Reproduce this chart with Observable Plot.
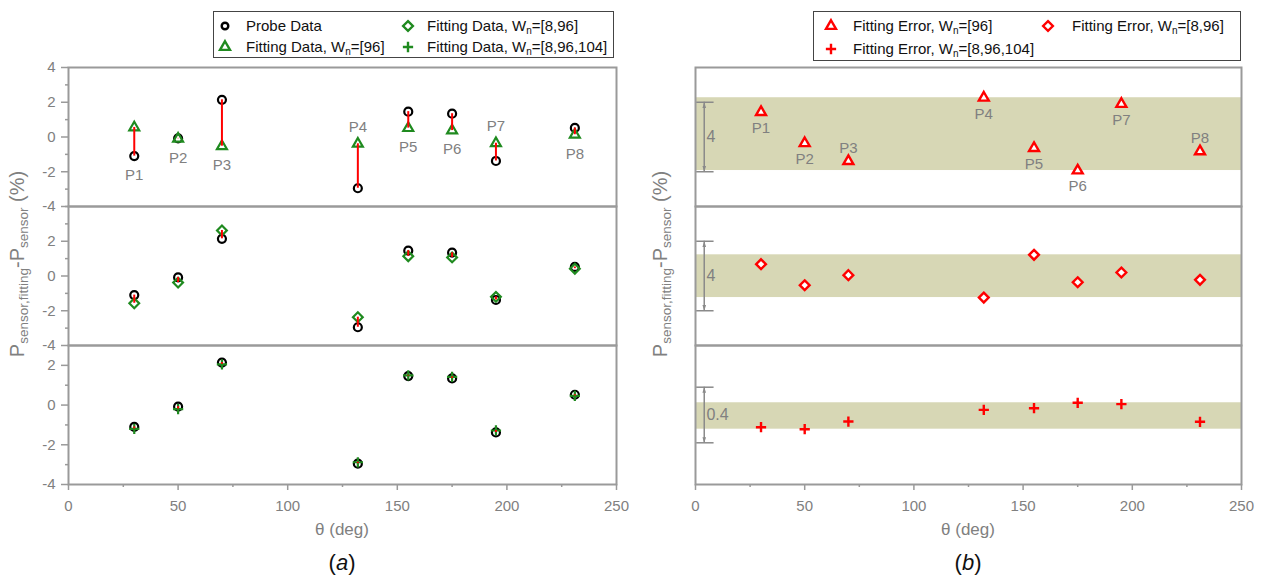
<!DOCTYPE html>
<html><head><meta charset="utf-8">
<script src="https://cdn.jsdelivr.net/npm/d3@7"></script>
<script src="https://cdn.jsdelivr.net/npm/@observablehq/plot@0.6"></script>
<style>
body{margin:0;background:#fff;font-family:"Liberation Sans",Arial,sans-serif;}
#root{position:relative;width:1261px;height:577px;overflow:hidden;background:#fff;}
.lg{position:absolute;border:1.5px solid #444;background:#fff;box-sizing:border-box;}
.lt{position:absolute;font-size:15px;color:#111;white-space:nowrap;line-height:18px;}
.lt sub{font-size:10px;vertical-align:-3px;line-height:0;}
.cap{position:absolute;text-align:center;white-space:nowrap;}
</style></head><body><div id="root"></div>
<script>
// ---------------- data ----------------
const theta = [30, 50, 70, 132, 155, 175, 195, 231];
const pointNames = ["P1", "P2", "P3", "P4", "P5", "P6", "P7", "P8"];
const probeData = [-1.1, -0.08, 2.14, -2.95, 1.46, 1.34, -1.38, 0.52];
const fitW96 = [0.55, -0.1, -0.53, -0.39, 0.51, 0.37, -0.36, 0.13];
const fitW8_96 = [-1.57, -0.38, 2.62, -2.37, 1.14, 1.07, -1.2, 0.42];
const fitW8_96_104 = [-1.2, -0.2, 2.05, -2.88, 1.5, 1.42, -1.28, 0.46];
const errW96 = [1.43, -0.36, -1.39, 2.26, -0.64, -1.93, 1.9, -0.83];
const errW8_96 = [0.68, -0.53, 0.05, -1.24, 1.22, -0.36, 0.2, -0.22];
const errW8_96_104 = [-0.088, -0.102, -0.047, 0.037, 0.049, 0.088, 0.078, -0.049];
const leftLabelSide = ["below", "below", "below", "above", "below", "below", "above", "below"];
const rightLabelSide = ["below", "below", "above", "below", "below", "below", "below", "above"];
const xDomain = [0, 250];
const xTicks = [0, 50, 100, 150, 200, 250];
const xMinorTicks = [25, 75, 125, 175, 225];
const yDomainTop = [-4, 4], yTicksTop = [-4, -2, 0, 2, 4], yMinorTop = [-3, -1, 1, 3];
const yDomainMid = [-4, 4], yTicksMid = [-4, -2, 0, 2], yMinorMid = [-3, -1, 1, 3, 4];
const yDomainBot = [-4, 3], yTicksBot = [-4, -2, 0, 2], yMinorBot = [-3, -1, 1];
const errDomains = [[-4, 4], [-4, 4], [-0.5, 0.5]];
const spanLengths = [4, 4, 0.4];
const spanLabels = ["4", "4", "0.4"];

// ---------------- style ----------------
const GREEN = "#1f8a1f", RED = "#ff0000", AXIS = "#9a9a9a", TXT = "#808080", BAND = "#d7d7b5";
const ROW_TOP = [67, 206, 345], ROW_H = 139;
const LX0 = 68, LX1 = 616, RX0 = 695, RX1 = 1241;
const idx = d3.range(theta.length);
const root = document.getElementById("root");

// narrow filled arrow head, tip at origin pointing up
const arrowHead = {draw(ctx, size) { const s = Math.sqrt(size); ctx.moveTo(0, 0); ctx.lineTo(-s * 0.32, s); ctx.lineTo(s * 0.32, s); ctx.closePath(); }};

function place(node, left, top) {
  const d = document.createElement("div");
  d.style.cssText = `position:absolute;left:${left}px;top:${top}px;`;
  d.appendChild(node);
  root.appendChild(d);
}

function panel({x0, x1, row, yDomain, showX, yTicks, yMinor, marks}) {
  const mL = 70, mR = 12, mT = 12, mB = showX ? 40 : 12;
  const axes = [];
  if (yTicks) {
    axes.push(Plot.axisY(yMinor, {tickSize: 3, tickFormat: () => "", stroke: AXIS, strokeWidth: 1.5, label: null}));
    axes.push(Plot.axisY(yTicks, {tickSize: 7, tickPadding: 6, fontSize: 15, fill: TXT, stroke: AXIS, strokeWidth: 1.5, label: null, tickFormat: d => String(d)}));
  }
  if (showX) {
    axes.push(Plot.axisX(xMinorTicks, {tickSize: 3, tickFormat: () => "", stroke: AXIS, strokeWidth: 1.5, label: null}));
    axes.push(Plot.axisX(xTicks, {tickSize: 6, tickPadding: 10, fontSize: 15, fill: TXT, stroke: AXIS, strokeWidth: 1.5, label: null, tickFormat: d => String(d)}));
  }
  const svg = Plot.plot({
    width: (x1 - x0) + mL + mR,
    height: ROW_H + mT + mB,
    marginLeft: mL, marginRight: mR, marginTop: mT, marginBottom: mB,
    x: Object.assign({domain: xDomain}, showX ? {} : {axis: null}),
    y: Object.assign({domain: yDomain}, yTicks ? {} : {axis: null}),
    style: {background: "transparent", overflow: "visible", fontFamily: "Liberation Sans, Arial, sans-serif", fontSize: "15px", maxWidth: "none"},
    marks: [...marks, Plot.frame({stroke: AXIS, strokeWidth: 2}), ...axes]
  });
  place(svg, x0 - mL, ROW_TOP[row] - mT);
}

// ---------------- left panel ----------------
const leftFits = [fitW96, fitW8_96, fitW8_96_104];
const leftSymbols = [d3.symbolTriangle, d3.symbolDiamond2, d3.symbolPlus];
const leftR = [3.7, 4.4, 3.4];
const leftDomains = [yDomainTop, yDomainMid, yDomainBot];
const leftTicks = [yTicksTop, yTicksMid, yTicksBot];
const leftMinor = [yMinorTop, yMinorMid, yMinorBot];

for (let row = 0; row < 3; row++) {
  const fit = leftFits[row];
  const marks = [
    Plot.dot(idx, {x: i => theta[i], y: i => probeData[i], r: 4, stroke: "#000", strokeWidth: 2.2, fill: "none"}),
    Plot.dot(idx, {x: i => theta[i], y: i => fit[i], symbol: leftSymbols[row], r: leftR[row], stroke: GREEN, strokeWidth: 2.2, fill: "none"}),
    Plot.ruleX(idx, {x: i => theta[i], y1: i => probeData[i], y2: i => fit[i], stroke: RED, strokeWidth: 2})
  ];
  if (row === 0) {
    marks.push(Plot.text(idx.filter(i => leftLabelSide[i] === "below"), {x: i => theta[i], y: i => Math.min(probeData[i], fit[i]), text: i => pointNames[i], dy: 19, fill: TXT, fontSize: 15}));
    marks.push(Plot.text(idx.filter(i => leftLabelSide[i] === "above"), {x: i => theta[i], y: i => Math.max(probeData[i], fit[i]), text: i => pointNames[i], dy: -17, fill: TXT, fontSize: 15}));
  }
  panel({x0: LX0, x1: LX1, row, yDomain: leftDomains[row], showX: row === 2, yTicks: leftTicks[row], yMinor: leftMinor[row], marks});
}

// ---------------- right panel ----------------
const rightErrs = [errW96, errW8_96, errW8_96_104];
const rightSymbols = [d3.symbolTriangle, d3.symbolDiamond2, d3.symbolPlus];
const rightR = [3.7, 4.4, 3.4];
for (let row = 0; row < 3; row++) {
  const err = rightErrs[row];
  const ext = d3.extent(err);
  const h = spanLengths[row] / 2;
  const marks = [
    Plot.rect([ext], {x1: xDomain[0], x2: xDomain[1], y1: d => d[0], y2: d => d[1], fill: BAND}),
    Plot.ruleY([-h, h], {x1: 0.5, x2: 8.5, stroke: "#8a8a8a", strokeWidth: 1.5}),
    Plot.ruleX([4], {y1: -h, y2: h, stroke: "#8a8a8a", strokeWidth: 1.5}),
    Plot.dot([h], {x: 4, y: d => d, symbol: arrowHead, r: 3.2, fill: "#8a8a8a", stroke: "none"}),
    Plot.dot([-h], {x: 4, y: d => d, symbol: arrowHead, r: 3.2, rotate: 180, fill: "#8a8a8a", stroke: "none"}),
    Plot.text([spanLabels[row]], {x: 5, y: 0, text: d => d, textAnchor: "start", fill: TXT, fontSize: 16}),
    Plot.dot(idx, {x: i => theta[i], y: i => err[i], symbol: rightSymbols[row], r: rightR[row], stroke: RED, strokeWidth: 2.4, fill: row === 2 ? "none" : "#fff"})
  ];
  if (row === 0) {
    marks.push(Plot.text(idx.filter(i => rightLabelSide[i] === "below"), {x: i => theta[i], y: i => err[i], text: i => pointNames[i], dy: 16, fill: TXT, fontSize: 15}));
    marks.push(Plot.text(idx.filter(i => rightLabelSide[i] === "above"), {x: i => theta[i], y: i => err[i], text: i => pointNames[i], dy: -13, fill: TXT, fontSize: 15}));
  }
  panel({x0: RX0, x1: RX1, row, yDomain: errDomains[row], showX: row === 2, marks});
}

// ---------------- y labels ----------------
const ov = d3.select(root).append("svg").attr("width", 1261).attr("height", 577)
  .style("position", "absolute").style("left", 0).style("top", 0).style("pointer-events", "none")
  .style("font-family", "Liberation Sans, Arial, sans-serif");
for (const bx of [24, 667]) {
  const t = ov.append("text").attr("transform", `translate(${bx},264) rotate(-90)`)
    .attr("text-anchor", "middle").attr("fill", TXT).attr("font-size", 20);
  t.append("tspan").text("P");
  t.append("tspan").attr("font-size", 13.5).attr("dy", 4).text("sensor,fitting");
  t.append("tspan").attr("dy", -4).text("-P");
  t.append("tspan").attr("font-size", 13.5).attr("dy", 4).text("sensor");
  t.append("tspan").attr("dy", -4).text(" (%)");
}

// ---------------- captions ----------------
function cap(html, cx, cy, size, color) {
  const d = document.createElement("div");
  d.className = "cap";
  d.innerHTML = html;
  d.style.cssText += `left:${cx - 100}px;width:200px;top:${cy - size * 0.6}px;font-size:${size}px;color:${color};line-height:${size * 1.2}px;`;
  root.appendChild(d);
}
cap("θ (deg)", (LX0 + LX1) / 2, 530, 17, TXT);
cap("θ (deg)", (RX0 + RX1) / 2, 530, 17, TXT);
cap("(<i>a</i>)", (LX0 + LX1) / 2, 563, 22, "#111");
cap("(<i>b</i>)", (RX0 + RX1) / 2, 563, 22, "#111");

// ---------------- legends ----------------
function legendBox(x, y, w, h) {
  const d = document.createElement("div");
  d.className = "lg";
  d.style.cssText += `left:${x}px;top:${y}px;width:${w}px;height:${h}px;`;
  root.appendChild(d);
}
function legendItem(sym, r, color, fill, mx, my, tx, html) {
  const s = d3.select(root).append("svg").attr("width", 20).attr("height", 20)
    .style("position", "absolute").style("left", (mx - 10) + "px").style("top", (my - 10) + "px");
  s.append("path").attr("transform", "translate(10,10)")
    .attr("d", d3.symbol(sym, Math.PI * r * r)())
    .attr("fill", fill).attr("stroke", color).attr("stroke-width", 2.4);
  const t = document.createElement("div");
  t.className = "lt";
  t.style.left = tx + "px";
  t.style.top = (my - 9) + "px";
  t.innerHTML = html;
  root.appendChild(t);
}
legendBox(213, 11, 401, 47);
legendItem(d3.symbolCircle, 3.3, "#000", "none", 225, 26, 246, "Probe Data");
legendItem(d3.symbolTriangle, 3.7, GREEN, "none", 225, 47, 246, "Fitting Data, W<sub>n</sub>=[96]");
legendItem(d3.symbolDiamond2, 4.4, GREEN, "none", 408, 26, 427, "Fitting Data, W<sub>n</sub>=[8,96]");
legendItem(d3.symbolPlus, 3.4, GREEN, "none", 408, 47, 427, "Fitting Data, W<sub>n</sub>=[8,96,104]");
legendBox(813, 11, 428, 50);
legendItem(d3.symbolTriangle, 3.7, RED, "#fff", 831, 26, 853, "Fitting Error, W<sub>n</sub>=[96]");
legendItem(d3.symbolDiamond2, 4.4, RED, "#fff", 1048, 26, 1072, "Fitting Error, W<sub>n</sub>=[8,96]");
legendItem(d3.symbolPlus, 3.4, RED, "none", 831, 49, 853, "Fitting Error, W<sub>n</sub>=[8,96,104]");
</script></body></html>
